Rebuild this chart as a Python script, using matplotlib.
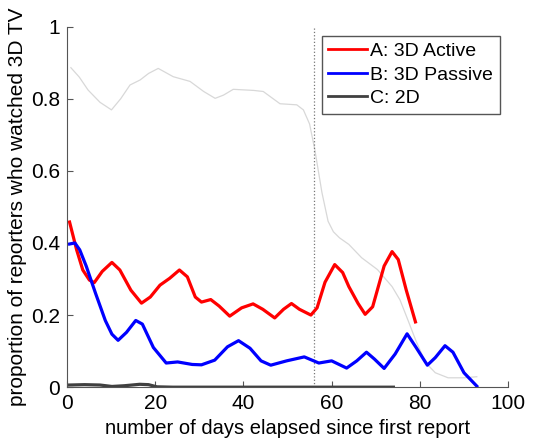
import matplotlib
matplotlib.use('Agg')
import matplotlib.pyplot as plt

plt.rcParams['font.family'] = ['Liberation Sans', 'DejaVu Sans']

# values
days_a = [0.6, 2.2, 3.6, 5.1, 6.2, 8.0, 10.2, 12.0, 14.5, 16.9, 18.9, 21.1, 23.3, 25.5, 27.3, 29.1, 30.5,
          32.6, 34.5, 36.9, 39.6, 42.2, 44.4, 47.1, 49.1, 50.9, 52.7, 55.3, 56.7, 58.5, 60.7, 62.5, 63.9,
          66.0, 67.6, 69.3, 71.9, 73.7, 75.1, 76.9, 79.0]
active = [0.458, 0.381, 0.325, 0.297, 0.290, 0.321, 0.346, 0.325, 0.269, 0.233, 0.250, 0.283, 0.302, 0.325,
          0.306, 0.250, 0.236, 0.243, 0.225, 0.197, 0.220, 0.231, 0.216, 0.192, 0.216, 0.232, 0.216, 0.200,
          0.220, 0.291, 0.340, 0.318, 0.279, 0.232, 0.202, 0.223, 0.336, 0.376, 0.354, 0.270, 0.181]

days_b = [0.6, 1.8, 2.9, 4.4, 6.5, 8.7, 10.2, 11.6, 13.5, 15.6, 17.1, 19.6, 22.5, 25.1, 28.4, 30.5, 33.5,
          36.4, 38.9, 41.5, 44.0, 46.2, 49.8, 53.8, 57.1, 60.0, 63.4, 65.7, 67.9, 69.7, 71.9, 74.4, 77.1,
          79.1, 81.7, 83.5, 85.7, 87.5, 90.0, 92.9]
passive = [0.397, 0.400, 0.381, 0.335, 0.260, 0.185, 0.147, 0.130, 0.152, 0.185, 0.175, 0.110, 0.067, 0.070,
           0.063, 0.062, 0.075, 0.112, 0.129, 0.108, 0.073, 0.061, 0.073, 0.084, 0.067, 0.073, 0.053, 0.073,
           0.097, 0.078, 0.052, 0.092, 0.148, 0.111, 0.061, 0.082, 0.115, 0.097, 0.040, 0.003]

days_c = [0.6, 4.0, 7.5, 10.2, 13.0, 16.5, 18.5, 20.4, 24.0, 74.0]
flat = [0.006, 0.007, 0.006, 0.002, 0.004, 0.008, 0.007, 0.001, 0.0, 0.0]

days_all = [0.9, 2.8, 4.8, 7.5, 10.1, 12.2, 14.3, 16.6, 18.5, 20.7, 24.1, 27.9, 31.0, 33.6, 35.5, 37.7,
            42.3, 44.5, 48.3, 52.1, 53.6, 55.0, 56.2, 57.8, 59.2, 60.4, 61.8, 63.9, 66.8, 70.4, 73.7,
            75.5, 77.3, 79.1, 81.3, 83.5, 86.4, 90.0, 92.9]
overall = [0.886, 0.86, 0.824, 0.79, 0.769, 0.8, 0.838, 0.852, 0.87, 0.884, 0.861, 0.848, 0.82, 0.801, 0.81,
           0.826, 0.823, 0.82, 0.786, 0.783, 0.769, 0.73, 0.658, 0.54, 0.46, 0.431, 0.414, 0.396, 0.359,
           0.326, 0.279, 0.242, 0.186, 0.129, 0.068, 0.040, 0.026, 0.026, 0.029]

split_day = 56

fig = plt.figure(figsize=(5.44, 4.43), dpi=100)
ax = fig.add_axes([0.123, 0.126, 0.811, 0.814])

ax.plot(days_all, overall, color='#d8d8d8', lw=0.9)
ax.axvline(split_day, color='#777777', lw=0.9, ls=':')
ax.plot(days_a, active, color='#ff0000', lw=2.3, label='A: 3D Active')
ax.plot(days_b, passive, color='#0000ff', lw=2.3, label='B: 3D Passive')
ax.plot(days_c, flat, color='#404040', lw=2.3, label='C: 2D')

ax.set_xlim(0, 100)
ax.set_ylim(0, 1)
ax.set_xticks([0, 20, 40, 60, 80, 100])
ax.set_yticks([0, 0.2, 0.4, 0.6, 0.8, 1])
ax.set_yticklabels(['0', '0.2', '0.4', '0.6', '0.8', '1'])
for s in ['top', 'right']:
    ax.spines[s].set_visible(False)
for s in ['left', 'bottom']:
    ax.spines[s].set_color('#555555')
ax.tick_params(direction='in', length=4, labelsize=15, colors='#555555', labelcolor='black', pad=5)
ax.set_xlabel('number of days elapsed since first report', fontsize=14.5, labelpad=4)
ax.set_ylabel('proportion of reporters who watched 3D TV', fontsize=15, labelpad=3)

leg = ax.legend(loc='upper right', bbox_to_anchor=(0.99, 0.985), fontsize=14, fancybox=False,
                framealpha=1, handlelength=2.0, borderpad=0.35, labelspacing=0.3, handletextpad=0.15,
                borderaxespad=0.2)
leg.get_frame().set_edgecolor('#555555')
for h in leg.get_lines():
    h.set_linewidth(2)

fig.savefig('out.png', dpi=100)
